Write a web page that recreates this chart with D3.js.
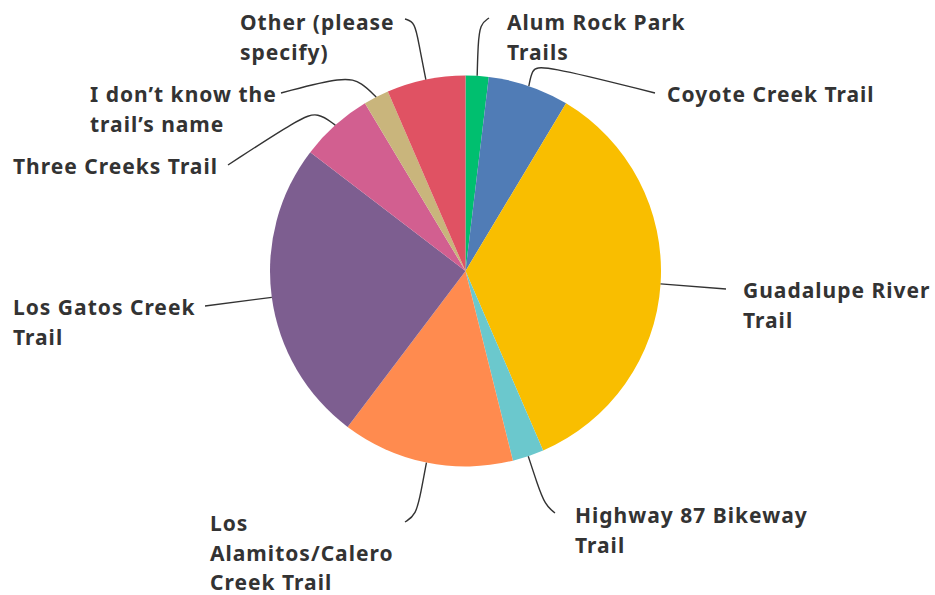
<!DOCTYPE html>
<html>
<head>
<meta charset="utf-8">
<script src="https://cdn.jsdelivr.net/npm/d3@7"></script>
<style>
  body { margin: 0; background: #fff; }
  text { font-family: "Noto Sans", sans-serif; font-weight: bold; fill: #333; }
</style>
</head>
<body>
<div id="chart"></div>
<script>
// slice data, clockwise from 12 o'clock (percent of responses)
var trails = ["Alum Rock Park Trails", "Coyote Creek Trail", "Guadalupe River Trail",
  "Highway 87 Bikeway Trail", "Los Alamitos/Calero Creek Trail", "Los Gatos Creek Trail",
  "Three Creeks Trail", "I don\u2019t know the trail\u2019s name", "Other (please specify)"];
var shares = [1.9, 6.7, 34.9, 2.6, 14.2, 25.1, 6.0, 2.1, 6.5];
var colors = ["#00bf6f", "#507cb6", "#f9be00", "#6bc8cd", "#ff8b4f",
  "#7d5e90", "#d25f90", "#c9b57c", "#e05263"];

// label text as it wraps in the picture
var labelLines = [
  ["Alum Rock Park", "Trails"],
  ["Coyote Creek Trail"],
  ["Guadalupe River", "Trail"],
  ["Highway 87 Bikeway", "Trail"],
  ["Los", "Alamitos/Calero", "Creek Trail"],
  ["Los Gatos Creek", "Trail"],
  ["Three Creeks Trail"],
  ["I don\u2019t know the", "trail\u2019s name"],
  ["Other (please", "specify)"]
];

var width = 935, height = 595;
var cx = 465.5, cy = 271, radius = 195.5;

// where each label sits and how its leader bends
var labelPos = [
  {x: 507, y: 30}, {x: 667, y: 102}, {x: 743, y: 298}, {x: 575, y: 523},
  {x: 210, y: 531}, {x: 13, y: 315}, {x: 13, y: 174}, {x: 90, y: 102}, {x: 240, y: 30}
];
var leaderPts = [
  [[478, 45], [480, 24], [489, 18]],
  [[532, 70], [540, 64], [655, 93]],
  [[726, 289]],
  [[537, 483], [545, 505], [555, 513]],
  [[421, 492], [416, 515], [405, 522]],
  [[205, 306]],
  [[318, 112], [300, 118], [228, 165]],
  [[362, 83], [345, 76], [281, 93]],
  [[419, 45], [415, 22], [405, 19]]
];

var svg = d3.select("#chart").append("svg")
  .attr("width", width).attr("height", height);

var g = svg.append("g").attr("transform", `translate(${cx}, ${cy})`);

var pie = d3.pie().sort(null).value(d => d);
var arcs = pie(shares);
var arc = d3.arc().innerRadius(0).outerRadius(radius);

g.selectAll("path.slice")
  .data(arcs)
  .enter()
  .append("path")
  .attr("class", "slice")
  .attr("d", arc)
  .attr("fill", (d, i) => colors[i]);

// leader lines start on the rim at the slice's middle angle
var line = d3.line().curve(d3.curveBasis);
svg.selectAll("path.leader")
  .data(arcs)
  .enter()
  .append("path")
  .attr("class", "leader")
  .attr("fill", "none")
  .attr("stroke", "#333")
  .attr("stroke-width", 1.4)
  .attr("d", function(d, i) {
    var a = (d.startAngle + d.endAngle) / 2;
    var start = [cx + radius * Math.sin(a), cy - radius * Math.cos(a)];
    var pts = [start].concat(leaderPts[i]);
    if (pts.length == 2) return d3.line()(pts);
    return line(pts);
  });

// 21px text, letter spacing so "Three Creeks Trail" is ~204px wide like the picture
var fontSize = 21;
var probe = svg.append("text").style("font-size", fontSize + "px").text("Three Creeks Trail");
var spacing = Math.max(0, (204 - probe.node().getComputedTextLength()) / 17);
probe.remove();

var labels = svg.selectAll("text.label")
  .data(labelLines)
  .enter()
  .append("text")
  .attr("class", "label")
  .attr("x", (d, i) => labelPos[i].x)
  .attr("y", (d, i) => labelPos[i].y)
  .style("font-size", fontSize + "px")
  .style("letter-spacing", spacing + "px");

labels.selectAll("tspan")
  .data(d => d)
  .enter()
  .append("tspan")
  .attr("x", function() { return this.parentNode.getAttribute("x"); })
  .attr("dy", (d, j) => j == 0 ? 0 : 29.5)
  .text(d => d);
</script>
</body>
</html>
